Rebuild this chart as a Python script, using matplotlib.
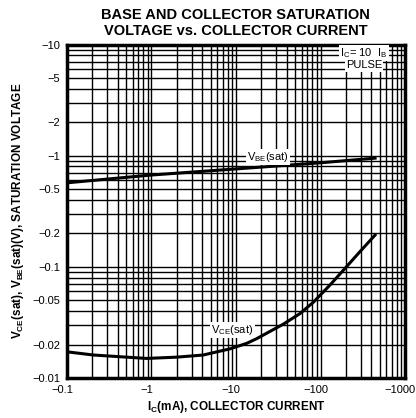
import matplotlib
matplotlib.use("Agg")
import matplotlib.pyplot as plt
import matplotlib.transforms as mtransforms
from matplotlib.ticker import FixedLocator, LogLocator, NullFormatter

plt.rcParams['font.family'] = ['Liberation Sans', 'DejaVu Sans']
plt.rcParams['mathtext.fontset'] = 'custom'
plt.rcParams['mathtext.rm'] = 'Liberation Sans'
plt.rcParams['mathtext.bf'] = 'Liberation Sans:bold'

# collector current (mA, magnitude) and saturation voltages (V, magnitude)
ic_vce = [0.1, 0.205, 0.508, 0.877, 1.99, 4.1, 8.5, 13.4, 17.6, 36.3,
          57.2, 82.2, 129.5, 195, 293, 442]
vce_sat = [0.0172, 0.0161, 0.0154, 0.0150, 0.0154, 0.0161, 0.0183, 0.0205,
           0.0226, 0.0305, 0.038, 0.048, 0.0686, 0.0969, 0.137, 0.193]
ic_vbe = [0.1, 1, 10, 100, 442]
vbe_sat = [0.57, 0.67, 0.76, 0.863, 0.95]

x_ticks = [0.1, 1, 10, 100, 1000]
x_labels = ["\u22120.1", "\u22121", "\u221210", "\u2212100", "\u22121000"]
y_ticks = [0.01, 0.02, 0.05, 0.1, 0.2, 0.5, 1, 2, 5, 10]
y_labels = ["\u22120.01", "\u22120.02", "\u22120.05", "\u22120.1", "\u22120.2",
            "\u22120.5", "\u22121", "\u22122", "\u22125", "\u221210"]

fig = plt.figure(figsize=(4.16, 4.18), dpi=100)
ax = fig.add_axes([0.161, 0.0957, 0.8126, 0.7978])

ax.set_xscale('log')
ax.set_yscale('log')
ax.set_xlim(0.1, 1000)
ax.set_ylim(0.01, 10)

ax.xaxis.set_major_locator(FixedLocator(x_ticks))
ax.xaxis.set_minor_locator(LogLocator(base=10, subs=range(2, 10)))
ax.xaxis.set_minor_formatter(NullFormatter())
ax.set_xticklabels(x_labels)
ax.yaxis.set_major_locator(FixedLocator(y_ticks))
ax.yaxis.set_minor_locator(LogLocator(base=10, subs=range(2, 10)))
ax.yaxis.set_minor_formatter(NullFormatter())
ax.set_yticklabels(y_labels)

ax.grid(True, which='both', color='black', linewidth=1.0)
ax.tick_params(which='both', length=0, labelsize=8, pad=5)

# x labels sit a little left of their grid lines in the original
shift = mtransforms.ScaledTranslation(-5 / 100, 0, fig.dpi_scale_trans)
for lbl in ax.get_xticklabels():
    lbl.set_transform(lbl.get_transform() + shift)

for s in ax.spines.values():
    s.set_linewidth(2.5)

ax.plot(ic_vce, vce_sat, color='black', linewidth=2.2)
ax.plot(ic_vbe, vbe_sat, color='black', linewidth=2.2)

box = dict(facecolor='white', edgecolor='none', pad=1)
ax.text(24, 0.97, r'V$_{\mathrm{BE}}$(sat)', fontsize=8, ha='center', va='center', bbox=box)
ax.text(9, 0.027, r'V$_{\mathrm{CE}}$(sat)', fontsize=8, ha='center', va='center', bbox=box)
ax.text(327, 8.4, r'I$_{\mathrm{C}}$= 10  I$_{\mathrm{B}}$', fontsize=8, ha='center', va='center', bbox=box)
ax.text(327, 6.5, 'PULSE', fontsize=8, ha='center', va='center', bbox=box)

ax.set_xlabel(r'I$_{\mathbf{C}}$(mA), COLLECTOR CURRENT', fontsize=8.5, fontweight='bold', labelpad=3)
ax.set_ylabel(r'V$_{\mathbf{CE}}$(sat), V$_{\mathbf{BE}}$(sat)(V), SATURATION VOLTAGE',
              fontsize=8.5, fontweight='bold', labelpad=4)
fig.text(0.567, 0.98, 'BASE AND COLLECTOR SATURATION\nVOLTAGE vs. COLLECTOR CURRENT',
         ha='center', va='top', fontsize=10.5, fontweight='bold', linespacing=1.15)

fig.savefig('out.png', dpi=100)
